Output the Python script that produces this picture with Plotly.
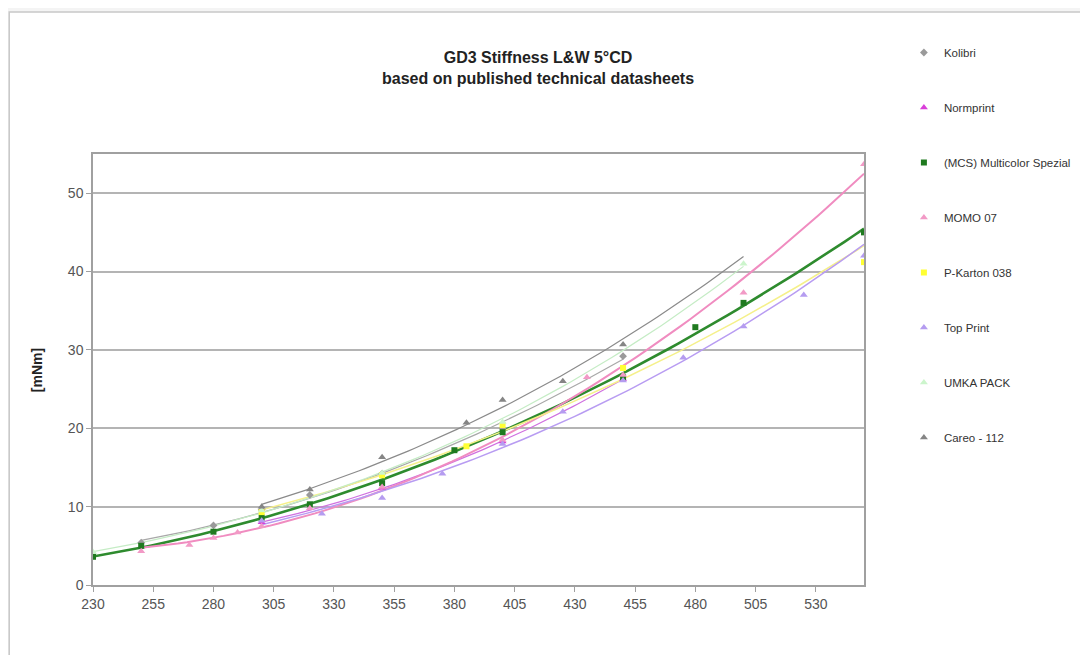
import numpy as np
import plotly.graph_objects as go

# ---------------- data ----------------
names = ["Kolibri", "Normprint", "(MCS) Multicolor Spezial", "MOMO 07",
         "P-Karton 038", "Top Print", "UMKA PACK", "Careo - 112"]

kolibri_x = [250, 280, 300, 320, 350, 400, 450]
kolibri_y = [5.4, 7.6, 9.6, 11.5, 14.2, 20.0, 29.2]

normprint_x = [300, 350, 400, 450]
normprint_y = [8.0, 12.4, 18.3, 26.3]

mcs_x = [230, 250, 280, 300, 320, 350, 380, 400, 450, 480, 500, 550]
mcs_y = [3.6, 5.0, 6.8, 8.6, 10.3, 13.0, 17.2, 19.5, 26.5, 32.9, 36.0, 45.0]

momo_x = [250, 270, 280, 290, 300, 320, 350, 400, 435, 450, 500, 550]
momo_y = [4.3, 5.1, 6.0, 6.7, 7.5, 9.8, 12.5, 18.5, 26.5, 26.8, 37.3, 53.7]

pkarton_x = [300, 350, 385, 400, 450, 550]
pkarton_y = [9.3, 14.0, 17.7, 20.4, 27.7, 41.2]

topprint_x = [300, 325, 350, 375, 400, 425, 450, 475, 500, 525, 550]
topprint_y = [8.2, 9.1, 11.1, 14.2, 18.0, 22.1, 26.1, 29.0, 33.0, 37.0, 42.0]

umka_x = [230, 300, 350, 400, 500]
umka_y = [4.2, 9.5, 14.3, 20.8, 41.0]

careo_x = [300, 320, 350, 385, 400, 425, 450]
careo_y = [10.0, 12.2, 16.3, 20.7, 23.6, 26.0, 30.7]

x_ticks = list(range(230, 531, 25))
y_ticks = [0, 10, 20, 30, 40, 50]

# ---------------- styles ----------------
# (name, x, y, marker colour, symbol, size, line colour, width, trend type, forecast end)
series = [
    (names[0], kolibri_x, kolibri_y, "#9a9a9a", "diamond", 6, "#a8a8a8", 1.2, "poly", None),
    (names[1], normprint_x, normprint_y, "#d93fd9", "triangle-up", 7, "#d070e0", 1.2, "poly", None),
    (names[2], mcs_x, mcs_y, "#1f7a1f", "square", 6, "#2e8b2e", 2.6, "poly", None),
    (names[3], momo_x, momo_y, "#f29ac6", "triangle-up", 7, "#f08cc0", 2.0, "poly", None),
    (names[4], pkarton_x, pkarton_y, "#ffff33", "square", 6, "#f5f08a", 1.5, "power", None),
    (names[5], topprint_x, topprint_y, "#b59cf0", "triangle-up", 7, "#b89cf2", 1.5, "power", None),
    (names[6], umka_x, umka_y, "#ccf5cc", "triangle-up", 7, "#c5ecc5", 1.2, "power", None),
    (names[7], careo_x, careo_y, "#858585", "triangle-up", 7, "#8a8a8a", 1.2, "power", 500),
]

fig = go.Figure()

# trendlines fitted to each series' data
for name, xs, ys, mc, sym, ms, lc, lw, kind, fwd in series:
    x_end = fwd if fwd is not None else max(xs)
    tx = np.linspace(min(xs), x_end, 80)
    if kind == "power":
        b, a = np.polyfit(np.log(xs), np.log(ys), 1)
        ty = np.exp(a) * tx ** b
    else:
        ty = np.polyval(np.polyfit(xs, ys, 2), tx)
    fig.add_trace(go.Scatter(x=tx, y=ty, mode="lines",
                             line=dict(color=lc, width=lw), showlegend=False,
                             hoverinfo="skip"))

for i, (name, xs, ys, mc, sym, ms, lc, lw, kind, fwd) in enumerate(series):
    fig.add_trace(go.Scatter(x=xs, y=ys, mode="markers", name=name,
                             legendgroup=f"g{i}",
                             marker=dict(color=mc, symbol=sym, size=ms,
                                         line=dict(width=0))))

OFF = 8  # page body margin
W, H = 1080, 647
L = 93 - OFF
T = 154 - OFF
R = W - (866 - OFF)
B = H - (585 - OFF)
pw, ph = W - L - R, H - T - B

def px_x(p):
    return (p - OFF - L) / pw

def px_y(p):
    return (H - B - (p - OFF)) / ph

fig.add_shape(type="rect", xref="paper", yref="paper",
              x0=px_x(9), x1=px_x(1100), y0=px_y(12), y1=px_y(670),
              fillcolor="white", line=dict(color="#c8c8c8", width=1.5),
              layer="below")

fig.add_annotation(text="<b>GD3 Stiffness L&W 5°CD</b><br><b>based on published technical datasheets</b>",
                   xref="paper", yref="paper", x=px_x(539), y=px_y(47),
                   xanchor="center", yanchor="top", showarrow=False,
                   font=dict(size=16, color="#222222"), align="center")

fig.add_annotation(text="<b>[mNm]</b>", xref="paper", yref="paper",
                   x=px_x(37), y=px_y(370), textangle=-90,
                   xanchor="center", yanchor="middle",
                   showarrow=False, font=dict(size=14, color="#222222"))

fig.update_layout(
    width=W, height=H,
    margin=dict(l=L, r=R, t=T, b=B),
    paper_bgcolor="#f4f4f4",
    plot_bgcolor="white",
    font=dict(family="Liberation Sans, Arial, sans-serif", color="#555555", size=12),
    legend=dict(x=px_x(906), y=px_y(38), xanchor="left", yanchor="top",
                tracegroupgap=36, font=dict(size=11.5, color="#333333"),
                bgcolor="rgba(0,0,0,0)", itemwidth=30, maxheight=600),
    xaxis=dict(range=[230, 550], tickvals=x_ticks, showgrid=False,
               showline=True, linecolor="#a0a0a0", linewidth=1.5, mirror=True,
               ticks="outside", ticklen=5, tickcolor="#a0a0a0", zeroline=False,
               tickfont=dict(size=14, color="#555555")),
    yaxis=dict(range=[0, 55], tickvals=y_ticks, showgrid=True,
               gridcolor="#b4b4b4", gridwidth=2,
               showline=True, linecolor="#a0a0a0", linewidth=1.5, mirror=True,
               ticks="outside", ticklen=5, tickcolor="#a0a0a0", zeroline=False,
               tickfont=dict(size=14, color="#555555")),
)

fig.write_html("out.html")
